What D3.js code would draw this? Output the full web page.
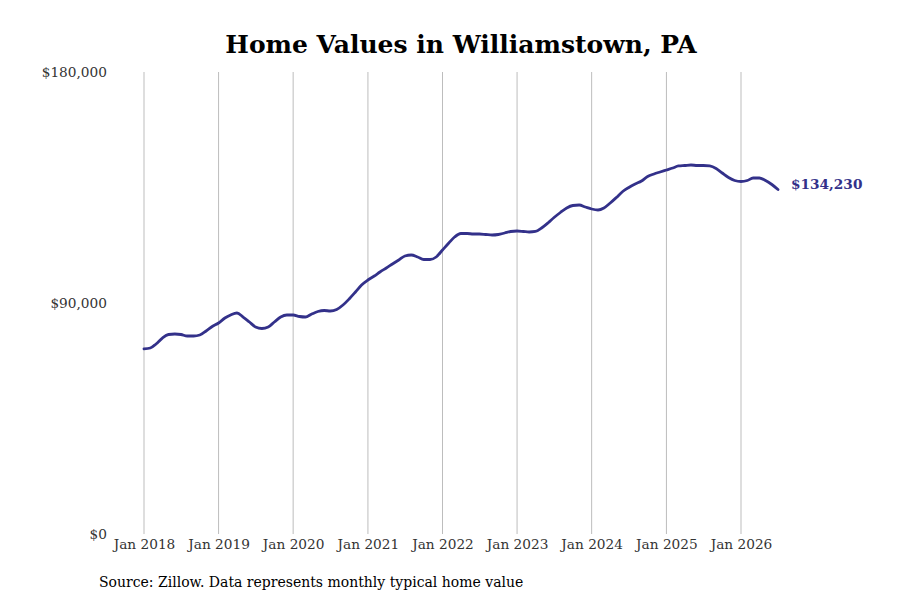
<!DOCTYPE html>
<html>
<head>
<meta charset="utf-8">
<script src="https://cdn.jsdelivr.net/npm/d3@7"></script>
<style>
  body { margin: 0; background: #fff; }
  svg text { font-family: "DejaVu Serif", serif; }
</style>
</head>
<body>
<script>
// monthly typical home value, Jan 2018 .. Jul 2026
var startMonth = "2018-01";
var values = [
  72100, 72470, 74030, 76360, 77730, 77920, 77730, 77140, 77140, 77530, 79090, 80840,
  82210, 84150, 85320, 86100, 84540, 82600, 80650, 80060, 80650, 82600, 84540, 85320,
  85320, 84740, 84540, 85710, 86690, 87080, 86880, 87470, 89220, 91560, 94280, 97010,
  98960, 100520, 102080, 103630, 105190, 106750, 108310, 108700, 107920, 106950, 106950, 107920,
  110650, 113370, 115710, 117080, 117080, 116880, 116880, 116690, 116490, 116690, 117270, 117860,
  118050, 117860, 117660, 117860, 119220, 121170, 123310, 125260, 127010, 127990, 128180, 127400,
  126620, 126230, 127010, 128960, 131100, 133440, 135000, 136360, 137530, 139280, 140260, 141040,
  141820, 142600, 143380, 143570, 143770, 143570, 143570, 143380, 142400, 140650, 138900, 137720,
  137330, 137720, 138700, 138700, 137720, 136170, 134230
];
var yTicks = [0, 90000, 180000];
var xTickYears = [2018, 2019, 2020, 2021, 2022, 2023, 2024, 2025, 2026];
var title = "Home Values in Williamstown, PA";
var source = "Source: Zillow. Data represents monthly typical home value";

var w = 900, h = 600;
var lineColor = "#33318a";

var parseMonth = d3.timeParse("%Y-%m");
var start = parseMonth(startMonth);
var data = values.map((v, i) => ({ date: d3.timeMonth.offset(start, i), value: v }));

var svg = d3.select("body").append("svg")
  .attr("width", w)
  .attr("height", h);

var x = d3.scaleTime()
  .domain([start, d3.timeYear.offset(start, 8)])
  .range([144, 741]);

var y = d3.scaleLinear()
  .domain([0, 180000])
  .range([534, 72]);

// vertical grid lines
svg.append("g")
  .selectAll("line")
  .data(xTickYears)
  .enter()
  .append("line")
  .attr("x1", d => x(new Date(d, 0, 1)))
  .attr("x2", d => x(new Date(d, 0, 1)))
  .attr("y1", y(180000))
  .attr("y2", y(0))
  .attr("stroke", "#bdbdbd")
  .attr("stroke-width", 1);

// x axis labels
var xAxis = d3.axisBottom(x)
  .tickValues(xTickYears.map(d => new Date(d, 0, 1)))
  .tickFormat(d3.timeFormat("Jan %Y"))
  .tickSize(0)
  .tickPadding(5);
var gx = svg.append("g")
  .attr("transform", `translate(0, ${y(0)})`)
  .call(xAxis);
gx.select(".domain").remove();
gx.selectAll("text")
  .style("font-family", "DejaVu Serif, serif")
  .style("font-size", "13.7px")
  .attr("fill", "#333");

// y axis labels
var yAxis = d3.axisLeft(y)
  .tickValues(yTicks)
  .tickFormat(d => "$" + d3.format(",")(d))
  .tickSize(0)
  .tickPadding(0);
var gy = svg.append("g")
  .attr("transform", `translate(107, 0)`)
  .call(yAxis);
gy.select(".domain").remove();
gy.selectAll("text")
  .style("font-family", "DejaVu Serif, serif")
  .style("font-size", "13.7px")
  .attr("fill", "#333");

// the line
var line = d3.line()
  .x(d => x(d.date))
  .y(d => y(d.value))
  .curve(d3.curveMonotoneX);

svg.append("path")
  .datum(data)
  .attr("d", line)
  .attr("fill", "none")
  .attr("stroke", lineColor)
  .attr("stroke-width", 2.8)
  .attr("stroke-linejoin", "round")
  .attr("stroke-linecap", "round");

// last value label
var last = data[data.length - 1];
svg.append("text")
  .attr("x", x(last.date) + 13)
  .attr("y", y(last.value) - 5)
  .attr("dy", "0.35em")
  .style("font-size", "13.7px")
  .style("font-weight", "bold")
  .attr("fill", lineColor)
  .text("$" + d3.format(",")(last.value));

// title
svg.append("text")
  .attr("x", 461)
  .attr("y", 53)
  .attr("text-anchor", "middle")
  .style("font-size", "25px")
  .style("font-weight", "bold")
  .attr("fill", "#000")
  .text(title);

// source
svg.append("text")
  .attr("x", 99)
  .attr("y", 587)
  .style("font-size", "14px")
  .attr("fill", "#000")
  .text(source);
</script>
</body>
</html>
